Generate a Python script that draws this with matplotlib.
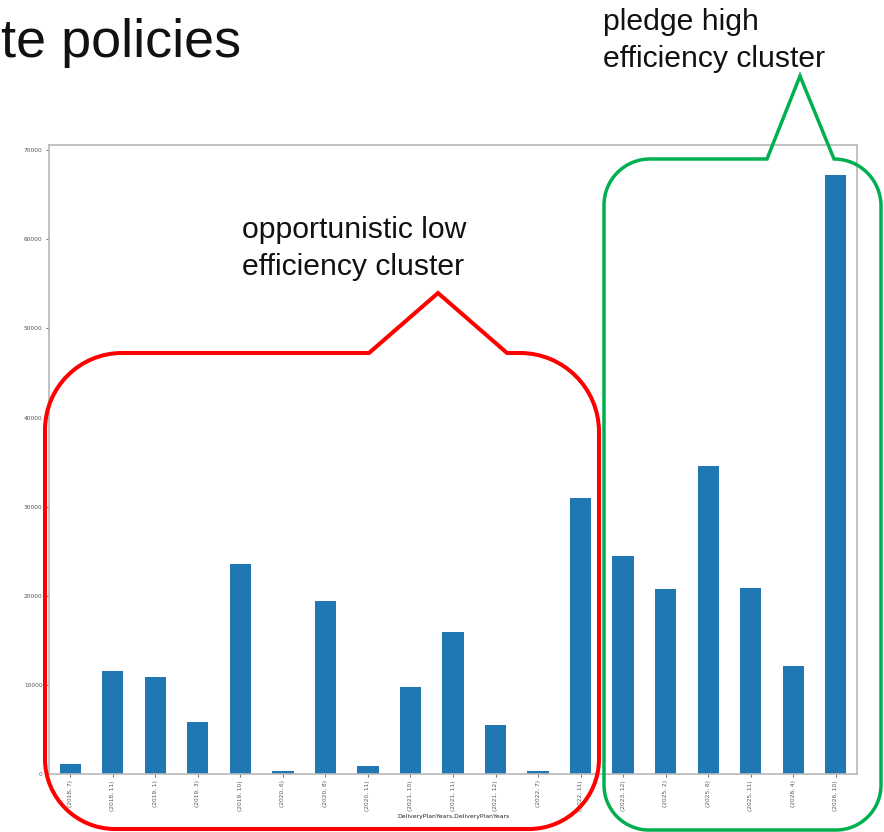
import matplotlib
matplotlib.use("Agg")
import matplotlib.pyplot as plt
from matplotlib.path import Path
from matplotlib.patches import PathPatch
from matplotlib.transforms import Affine2D
import numpy as np

# ---------------- data ----------------
categories = ["(2018, 7)", "(2018, 11)", "(2019, 1)", "(2019, 3)", "(2019, 10)",
              "(2020, 6)", "(2020, 8)", "(2020, 11)", "(2021, 10)", "(2021, 11)",
              "(2021, 12)", "(2022, 7)", "(2022, 11)", "(2023, 12)", "(2025, 2)",
              "(2025, 6)", "(2025, 11)", "(2026, 4)", "(2026, 10)"]
values = [1150, 11590, 10920, 5800, 23570, 300, 19450, 850, 9760, 15940,
          5550, 350, 31010, 24470, 20730, 34570, 20880, 12090, 67230]
yticks = [0, 10000, 20000, 30000, 40000, 50000, 60000, 70000]
xlabel = "DeliveryPlanYears,DeliveryPlanYears"
title_fragment = "te policies"
low_label = ["opportunistic low", "efficiency cluster"]
high_label = ["pledge high", "efficiency cluster"]

W, H = 884, 832
fig = plt.figure(figsize=(W / 100, H / 100), dpi=100)
fig.patch.set_facecolor("white")

# axes placed in pixel terms
L, R, T, B = 49, 857, 145, 774
ax = fig.add_axes([L / W, (H - B) / H, (R - L) / W, (B - T) / H])
x = np.arange(len(categories))
ax.bar(x, values, width=0.5, color="#1f77b4")
ax.set_xlim(-0.5, len(categories) - 0.5)
ax.set_yticks(yticks)
ax.set_yticklabels([str(v) for v in yticks])
ax.set_xticks(x)
ax.set_xticklabels(categories, rotation=90)
ax.tick_params(axis="both", labelsize=4.2, colors="#555555", length=2.5, width=0.6, pad=2)
ax.set_xlabel(xlabel, fontsize=4.4, color="#222222", labelpad=2)
for s in ax.spines.values():
    s.set_color("#b8b8b8")
    s.set_linewidth(1.2)

# pixel transform (y down) for annotations
pix = Affine2D().scale(1.0 / W, -1.0 / H).translate(0, 1) + fig.transFigure

K = 0.5523


def callout(x0, x1, y0, y1, rtl, rtr, rb, bx0, tip, bx1):
    v, c = [], []

    def mv(p):
        v.append(p); c.append(Path.MOVETO)

    def ln(p):
        v.append(p); c.append(Path.LINETO)

    def cu(p1, p2, p3):
        v.extend([p1, p2, p3]); c.extend([Path.CURVE4] * 3)

    mv((x0 + rtl, y0))
    ln((bx0, y0))
    ln(tip)
    ln((bx1, y0))
    ln((x1 - rtr, y0))
    cu((x1 - rtr + K * rtr, y0), (x1, y0 + rtr - K * rtr), (x1, y0 + rtr))
    ln((x1, y1 - rb))
    cu((x1, y1 - rb + K * rb), (x1 - rb + K * rb, y1), (x1 - rb, y1))
    ln((x0 + rb, y1))
    cu((x0 + rb - K * rb, y1), (x0, y1 - rb + K * rb), (x0, y1 - rb))
    ln((x0, y0 + rtl))
    cu((x0, y0 + rtl - K * rtl), (x0 + rtl - K * rtl, y0), (x0 + rtl, y0))
    c.append(Path.CLOSEPOLY); v.append((x0 + rtl, y0))
    return Path(v, c)


red = PathPatch(callout(45, 599, 353, 829, 77, 79, 70, 369, (438, 293), 507),
                transform=pix, facecolor="none", edgecolor="#ff0000",
                linewidth=2.9, zorder=10, joinstyle="miter")
green = PathPatch(callout(604, 881, 159, 830, 46, 47, 45, 767, (800, 76), 834),
                  transform=pix, facecolor="none", edgecolor="#00b04f",
                  linewidth=2.5, zorder=10, joinstyle="miter")
fig.add_artist(red)
fig.add_artist(green)

font = "Liberation Sans"
fig.text(1 / W, 1 - 57 / H, title_fragment, fontsize=38.9, family=font,
         color="#111111", va="baseline", ha="left")
for i, s in enumerate(low_label):
    fig.text(242 / W, 1 - (238 + 37 * i) / H, s, fontsize=21.7, family=font,
             color="#111111", va="baseline", ha="left")
for i, s in enumerate(high_label):
    fig.text(603 / W, 1 - (30 + 37 * i) / H, s, fontsize=21.7, family=font,
             color="#111111", va="baseline", ha="left")

fig.savefig("out.png", dpi=100)
